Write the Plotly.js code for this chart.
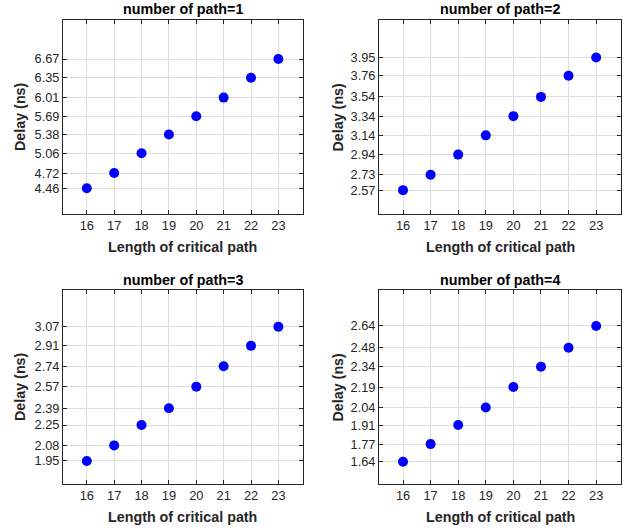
<!DOCTYPE html>
<html>
<head>
<meta charset="utf-8">
<script src="https://cdn.plot.ly/plotly-3.0.1.min.js"></script>
<style>html,body{margin:0;padding:0;background:#fff;}#chart{width:631px;height:529px;}</style>
</head>
<body>
<div id="chart"></div>
<script>
const pathLength = [16, 17, 18, 19, 20, 21, 22, 23];
const delayPath1 = [4.46, 4.72, 5.06, 5.38, 5.69, 6.01, 6.35, 6.67];
const delayPath2 = [2.57, 2.73, 2.94, 3.14, 3.34, 3.54, 3.76, 3.95];
const delayPath3 = [1.95, 2.08, 2.25, 2.39, 2.57, 2.74, 2.91, 3.07];
const delayPath4 = [1.64, 1.77, 1.91, 2.04, 2.19, 2.34, 2.48, 2.64];
const panelTitles = ["number of path=1", "number of path=2", "number of path=3", "number of path=4"];
const xLabel = "Length of critical path";
const yLabel = "Delay (ns)";

const series = [delayPath1, delayPath2, delayPath3, delayPath4];
const yRanges = [[4.02, 7.337], [2.322, 4.34], [1.758, 3.376], [1.476, 2.905]];

const W = 631, H = 529;
const px = v => v / W;
const py = v => 1 - v / H;
// plot boxes in pixels [left, right, top, bottom]
const boxes = [[63, 303, 20, 214], [379, 621, 20, 214], [63, 303, 290, 484], [379, 621, 290, 484]];

const traces = [];
const layout = {
  width: W, height: H,
  margin: {l: 0, r: 0, t: 0, b: 0},
  paper_bgcolor: '#ffffff',
  plot_bgcolor: '#ffffff',
  showlegend: false,
  font: {family: 'Liberation Sans, Arial, sans-serif', color: '#262626'},
  annotations: []
};

series.forEach((ys, i) => {
  const n = i === 0 ? '' : String(i + 1);
  const b = boxes[i];
  traces.push({
    x: pathLength, y: ys, type: 'scatter', mode: 'markers',
    xaxis: 'x' + n, yaxis: 'y' + n,
    marker: {color: '#0000ff', size: 10, line: {width: 0}},
    hoverinfo: 'x+y'
  });
  const common = {
    showline: true, linecolor: '#262626', linewidth: 1, mirror: 'ticks',
    ticks: 'inside', ticklen: 4, tickcolor: '#262626', tickwidth: 1,
    showgrid: true, gridcolor: '#dedede', gridwidth: 1, zeroline: false,
    tickfont: {family: 'Liberation Sans, Arial, sans-serif', size: 12.8, color: '#262626'},
    automargin: false, fixedrange: true
  };
  layout['xaxis' + n] = Object.assign({}, common, {
    domain: [px(b[0]), px(b[1])], anchor: 'y' + n,
    range: [15.13, 23.9], tickmode: 'array', tickvals: pathLength,
    ticktext: pathLength.map(String)
  });
  layout['yaxis' + n] = Object.assign({}, common, {
    domain: [py(b[3]), py(b[2])], anchor: 'x' + n,
    range: yRanges[i], tickmode: 'array', tickvals: ys,
    ticktext: ys.map(v => v.toFixed(2))
  });
  const cx = (b[0] + b[1]) / 2;
  layout.annotations.push({
    text: '<b>' + panelTitles[i] + '</b>', xref: 'paper', yref: 'paper',
    x: px(cx), y: py(b[2] - 10.5), xanchor: 'center', yanchor: 'middle', showarrow: false,
    font: {family: 'Liberation Sans, Arial, sans-serif', size: 14.3, color: '#000000'}
  });
  layout.annotations.push({
    text: '<b>' + xLabel + '</b>', xref: 'paper', yref: 'paper',
    x: px(cx), y: py(b[3] + 33.3), xanchor: 'center', yanchor: 'middle', showarrow: false,
    font: {family: 'Liberation Sans, Arial, sans-serif', size: 14.3, color: '#262626'}
  });
  layout.annotations.push({
    text: '<b>' + yLabel + '</b>', xref: 'paper', yref: 'paper',
    x: px(b[0] - (i % 2 === 0 ? 43 : 41.5)), y: py((b[2] + b[3]) / 2), xanchor: 'center', yanchor: 'middle',
    textangle: -90, showarrow: false,
    font: {family: 'Liberation Sans, Arial, sans-serif', size: 14.3, color: '#262626'}
  });
});

Plotly.newPlot('chart', traces, layout, {displayModeBar: false, staticPlot: true});
</script>
</body>
</html>
